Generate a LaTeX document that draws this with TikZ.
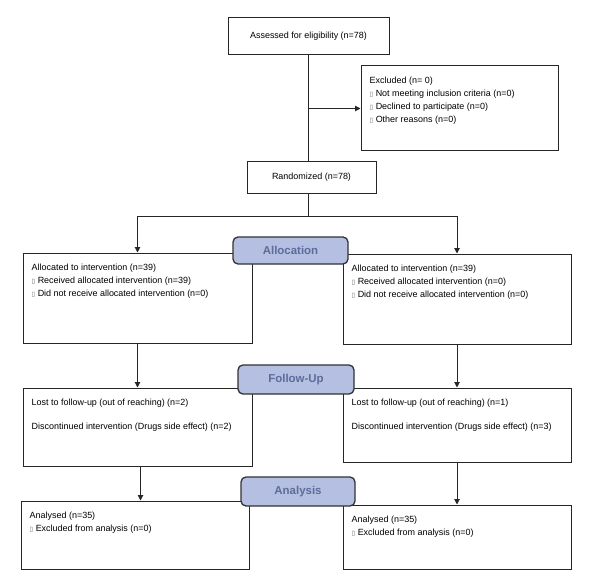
\documentclass[tikz,border=0pt]{standalone}
\usepackage{fontspec}
\setmainfont{Liberation Sans}
\newfontfamily\symfont{DejaVu Sans}
\usetikzlibrary{fit}
\usetikzlibrary{arrows.meta}
\definecolor{phasefill}{HTML}{B5BFE1}
\definecolor{phasetext}{HTML}{5D6C9C}
\newcommand{\tofu}{{\symfont\fontsize{6.5}{6.5}\selectfont\textcolor{black!60}{▯}}}
\tikzset{cell/.style={rectangle, draw=black!85, line width=1bp, inner sep=0pt}}
\tikzset{txt/.style={anchor=north west, align=left, inner sep=0pt, xshift=9bp, yshift=-11bp}}
\tikzset{phase/.style={rectangle, rounded corners=5pt, draw=black!80, line width=1.3bp,
   fill=phasefill, text=phasetext, inner sep=0pt,
   label={[text=phasetext, font=\fontsize{11.5}{12}\selectfont\bfseries]center:#1}}}
\tikzset{link/.style={-{Triangle[length=5.5bp,width=5.5bp]}, line width=1bp, draw=black!85}}

\begin{document}
\begin{tikzpicture}[x=1bp, y=-1bp, font=\fontsize{9}{13}\selectfont]

    \useasboundingbox (0,0) rectangle (596,579);

    \node[cell, fit={(228,18)(389,55)}, label=center:{Assessed for eligibility (n=78)}] (assess) {};
    \node[cell, fit={(361,66)(558,151)}, label={[txt]north west:{Excluded (n= 0)\\
      \tofu\ Not meeting inclusion criteria (n=0)\\
      \tofu\ Declined to participate (n=0)\\
      \tofu\ Other reasons (n=0)}}] (excl) {};
    \node[cell, fit={(247,162)(376,193)}, label=center:{Randomized (n=78)}] (rand) {};

    \node[cell, fit={(23,253)(252,343)}, label={[txt]north west:{Allocated to intervention (n=39)\\
      \tofu\ Received allocated intervention (n=39)\\
      \tofu\ Did not receive allocated intervention (n=0)}}] (allocL) {};
    \node[cell, fit={(343,254)(571,344)}, label={[txt]north west:{Allocated to intervention (n=39)\\
      \tofu\ Received allocated intervention (n=0)\\
      \tofu\ Did not receive allocated intervention (n=0)}}] (allocR) {};

    \node[cell, fit={(23,388)(252,466)}, label={[txt]north west:{Lost to follow-up (out of reaching) (n=2)\\[11bp]
      Discontinued intervention (Drugs side effect) (n=2)}}] (followL) {};
    \node[cell, fit={(343,388)(571,462)}, label={[txt]north west:{Lost to follow-up (out of reaching) (n=1)\\[11bp]
      Discontinued intervention (Drugs side effect) (n=3)}}] (followR) {};

    \node[cell, fit={(21,501)(249,569)}, label={[txt]north west:{Analysed (n=35)\\
      \tofu\ Excluded from analysis (n=0)}}] (analysL) {};
    \node[cell, fit={(343,505)(571,569)}, label={[txt]north west:{Analysed (n=35)\\
      \tofu\ Excluded from analysis (n=0)}}] (analysR) {};

    % stage headers
    \node[phase=Allocation, fit={(233,237)(348,264)}] (allocation) {};
    \node[phase=Follow-Up, fit={(238,365)(354,394)}] (followup) {};
    \node[phase=Analysis, fit={(241,477)(355,506)}] (analysis) {};

    % connectors
    \coordinate (split) at (assess.south |- 0,216);
    \draw[link, -] (assess.south) -- (assess.south |- rand.north);
    \draw[link] (assess.south |- excl.west) -- (excl.west);
    \draw[link, -] (assess.south |- rand.south) -- (split);
    \draw[link] (split) -| (allocL.north);
    \draw[link] (split) -| (allocR.north);

    \draw[link] (allocL.south) -- (allocL.south |- followL.north);
    \draw[link] (allocR.south) -- (allocR.south |- followR.north);
    \draw[link] ([xshift=3bp]followL.south) -- ([xshift=3bp]followL.south |- analysL.north);
    \draw[link] (followR.south) -- (followR.south |- analysR.north);

\end{tikzpicture}
\end{document}
